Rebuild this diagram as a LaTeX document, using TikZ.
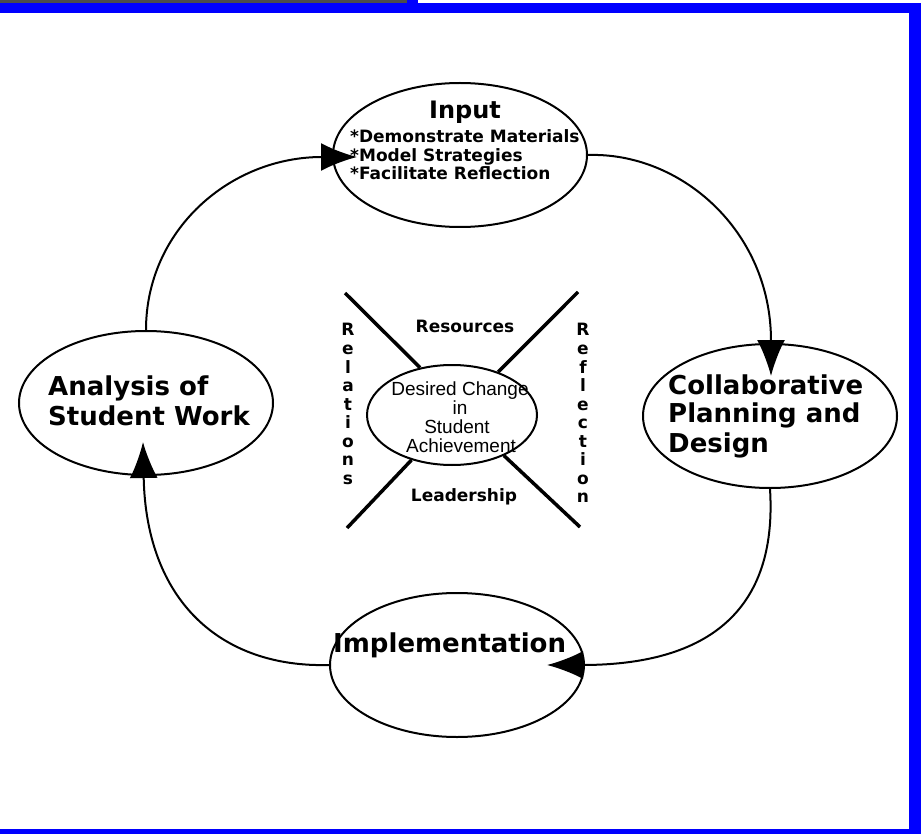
\documentclass[tikz,border=0pt]{standalone}
\usepackage{fontspec}
\newfontfamily\headfont{DejaVu Sans}
\newfontfamily\plainfont{Liberation Sans}
\usetikzlibrary{shapes.geometric,arrows.meta}

\tikzset{
  stage/.style={draw, ellipse, line width=2pt, minimum width=254pt, minimum height=144pt, inner sep=0pt},
  stagetext/.style={font=\headfont\bfseries\fontsize{26}{30}\selectfont, inner sep=0pt, anchor=base west},
  bullettext/.style={font=\headfont\bfseries\fontsize{17}{19}\selectfont, inner sep=0pt, anchor=base west},
  factortext/.style={font=\headfont\bfseries\fontsize{17}{19}\selectfont, inner sep=0pt, anchor=base},
  lettertext/.style={font=\headfont\bfseries\fontsize{17}{19}\selectfont, inner sep=0pt, anchor=base},
  goaltext/.style={font=\plainfont\fontsize{19}{19}\selectfont, inner sep=0pt, anchor=base},
  flow/.style={line width=2pt, -{Latex[length=36pt,width=28pt]}},
  spoke/.style={line width=3.5pt},
}

\begin{document}
\begin{tikzpicture}[x=1pt,y=-1pt]
  \useasboundingbox (0,0) rectangle (921,834);

  % frame
  \fill[black!70] (0,0) rectangle (407,3);
  \fill[blue] (407,0) rectangle (418,3);
  \fill[blue] (0,3) rectangle (921,13);
  \fill[blue] (909,3) rectangle (921,834);
  \fill[blue] (0,829) rectangle (921,834);

  % the four stages and the goal in the middle
  \node[stage] (input) at (460,155) {};
  \node[stage] (collab) at (770,416) {};
  \node[stage] (impl) at (457,665) {};
  \node[stage] (analysis) at (146,403) {};
  \node[draw, ellipse, line width=2pt, minimum width=170pt, minimum height=100pt] (goal) at (452,415) {};

  % stage labels
  \node[stagetext, anchor=base, font=\headfont\bfseries\fontsize{24}{28}\selectfont] (inputname) at (465,119) {Input};
  \foreach \txt [count=\i] in {Demonstrate Materials, Model Strategies, Facilitate Reflection}
    \node[bullettext] (inputitem\i) at (350,{124.5+18.5*\i}) {*\txt};
  \node[stagetext] (collab1) at (668,394) {Collaborative};
  \node[stagetext] (collab2) at (668,422) {Planning and};
  \node[stagetext] (collab3) at (668,452) {Design};
  \node[stagetext] (implname) at (333,652) {Implementation};
  \node[stagetext] (analysis1) at (48,395) {Analysis of};
  \node[stagetext] (analysis2) at (48,425) {Student Work};

  % goal text
  \node[goaltext] (goal1) at (460,395) {Desired Change};
  \node[goaltext] (goal2) at (460,414) {in};
  \node[goaltext] (goal3) at (457,433) {Student};
  \node[goaltext] (goal4) at (461,452) {Achievement};

  % the X round the goal
  \coordinate (xnw) at (345,293);
  \coordinate (xne) at (578,292);
  \coordinate (xsw) at (347,528);
  \coordinate (xse) at (580,527);
  \draw[spoke] (xnw) -- (goal.124);
  \draw[spoke] (xne) -- (goal.43);
  \draw[spoke] (xsw) -- (goal.228);
  \draw[spoke] (xse) -- (goal.322);

  \node[factortext] (resources) at (465,333) {Resources};
  \node[factortext] (leadership) at (464,501) {Leadership};
  \foreach \c [count=\i] in {R,e,l,a,t,i,o,n,s}
    \node[lettertext] (rel\i) at (348,{336+18.5*(\i-1)}) {\c};
  \foreach \c [count=\i] in {R,e,f,l,e,c,t,i,o,n}
    \node[lettertext] (refl\i) at (583,{336+18.5*(\i-1)}) {\c};

  % cycle arrows
  \coordinate (tipinput) at (357,157);
  \coordinate (tipcollab) at (771,376);
  \coordinate (tipimpl) at (547,665);
  \coordinate (tipanalysis) at (143,442);
  \draw[flow] (analysis.north) .. controls (146,230) and (230,157) .. (tipinput);
  \draw[flow] (input.east) .. controls (680,152) and (771,230) .. (tipcollab);
  \draw[flow] (collab.south) .. controls (777,600) and (720,665) .. (tipimpl);
  \draw[flow] (impl.west) .. controls (220,668) and (146,600) .. (tipanalysis);
\end{tikzpicture}
\end{document}
